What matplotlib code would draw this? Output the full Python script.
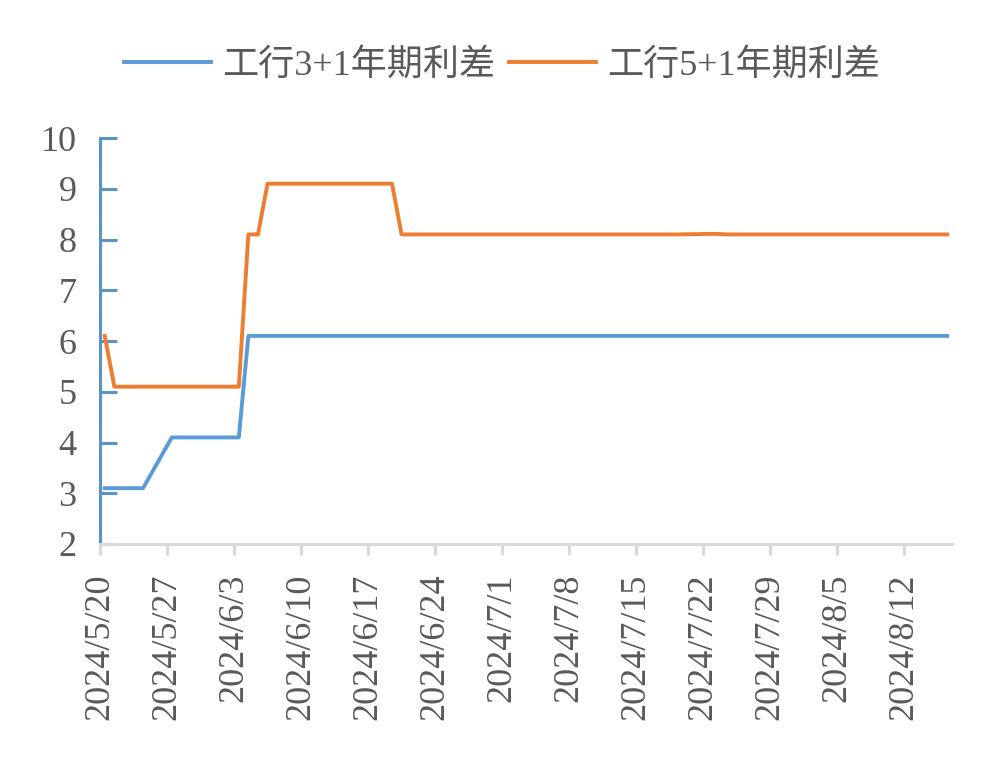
import matplotlib
matplotlib.use("Agg")
import matplotlib.pyplot as plt
import matplotlib.dates as mdates
import pandas as pd

plt.rcParams['font.family'] = ['Liberation Serif', 'Noto Sans CJK SC', 'DejaVu Sans']

# trading days 2024/5/20 - 2024/8/16 (6/10 holiday)
dates = pd.bdate_range('2024-05-20', '2024-08-16').drop(pd.Timestamp('2024-06-10'))

icbc_3_1 = [3.1, 3.1, 3.1, 3.1, 3.1,
            4.1, 4.1, 4.1, 4.1, 4.1,
            4.1, 6.1, 6.1, 6.1, 6.1,
            6.1, 6.1, 6.1, 6.1,
            6.1, 6.1, 6.1, 6.1, 6.1,
            6.1, 6.1, 6.1, 6.1, 6.1,
            6.1, 6.1, 6.1, 6.1, 6.1,
            6.1, 6.1, 6.1, 6.1, 6.1,
            6.1, 6.1, 6.1, 6.1, 6.1,
            6.1, 6.1, 6.1, 6.1, 6.1,
            6.1, 6.1, 6.1, 6.1, 6.1,
            6.1, 6.1, 6.1, 6.1, 6.1,
            6.1, 6.1, 6.1, 6.1, 6.1]

icbc_5_1 = [6.1, 5.1, 5.1, 5.1, 5.1,
            5.1, 5.1, 5.1, 5.1, 5.1,
            5.1, 8.1, 8.1, 9.1, 9.1,
            9.1, 9.1, 9.1, 9.1,
            9.1, 9.1, 9.1, 8.1, 8.1,
            8.1, 8.1, 8.1, 8.1, 8.1,
            8.1, 8.1, 8.1, 8.1, 8.1,
            8.1, 8.1, 8.1, 8.1, 8.1,
            8.1, 8.1, 8.1, 8.1, 8.1,
            8.11, 8.11, 8.1, 8.1, 8.1,
            8.1, 8.1, 8.1, 8.1, 8.1,
            8.1, 8.1, 8.1, 8.1, 8.1,
            8.1, 8.1, 8.1, 8.1, 8.1]

labels = ['工行3+1年期利差', '工行5+1年期利差']
colors = ['#5B9BD5', '#ED7D31']
grey = '#595959'

fig = plt.figure(figsize=(10.04, 7.67), dpi=100)
ax = fig.add_axes([100 / 1004, 1 - 544 / 767, 852 / 1004, 406 / 767])

# excel date axis puts points in the middle of the day
x = dates + pd.Timedelta(hours=12)
ax.plot(x, icbc_3_1, color=colors[0], lw=2.8, label=labels[0])
ax.plot(x, icbc_5_1, color=colors[1], lw=2.8, label=labels[1])

ax.set_ylim(2, 10)
ax.set_yticks(range(2, 11))
ax.set_xlim(pd.Timestamp('2024-05-20'), pd.Timestamp('2024-08-17'))
ax.set_xticks(pd.date_range('2024-05-20', '2024-08-12', freq='7D'))
ax.xaxis.set_major_formatter(mdates.DateFormatter('%Y/%-m/%-d'))

for s in ['top', 'right']:
    ax.spines[s].set_visible(False)
ax.spines['left'].set_color('#5A93C8')
ax.spines['left'].set_linewidth(2.2)
ax.spines['bottom'].set_color('#D9D9D9')
ax.spines['bottom'].set_linewidth(2.2)

ax.tick_params(axis='y', direction='in', length=12, width=2.2, color='#5A93C8',
               labelsize=26, labelcolor=grey, pad=17)
ax.tick_params(axis='x', direction='out', length=8, width=2.2, color='#D9D9D9',
               labelsize=26, labelcolor=grey, pad=13, rotation=90)

fig.legend(loc='center', bbox_to_anchor=(0.5, 1 - 66 / 767), ncol=2, frameon=False,
           fontsize=26, labelcolor=grey, handlelength=2.4, handletextpad=0.3,
           columnspacing=0.4)

fig.savefig('out.png', dpi=100)
